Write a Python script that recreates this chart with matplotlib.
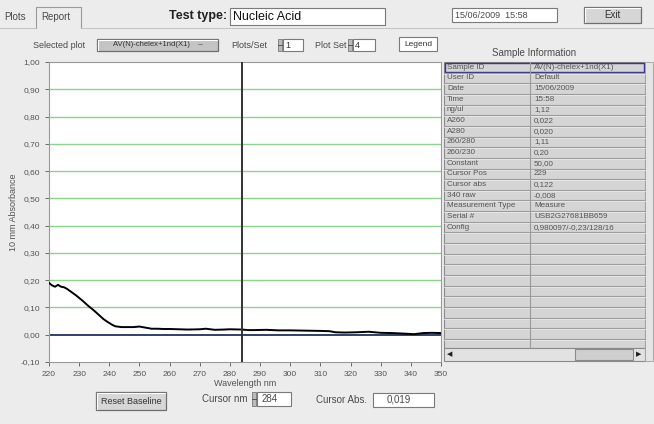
import numpy as np
import matplotlib.pyplot as plt
from matplotlib.patches import Rectangle

# absorbance spectrum
wavelength = [220, 221, 222, 223, 224, 225, 226, 227, 228, 229, 230, 231, 232, 233, 234,
              235, 236, 237, 238, 239, 240, 241, 242, 244, 246, 248, 250, 252, 254, 256,
              258, 260, 263, 266, 270, 272, 275, 278, 280, 284, 286, 288, 292, 296, 300,
              305, 310, 313, 315, 318, 322, 326, 330, 334, 338, 341, 344, 347, 350]
absorbance = [0.190, 0.181, 0.176, 0.183, 0.176, 0.174, 0.168, 0.160, 0.152, 0.144, 0.135,
              0.126, 0.116, 0.106, 0.097, 0.088, 0.078, 0.068, 0.058, 0.050, 0.043, 0.036,
              0.031, 0.028, 0.028, 0.028, 0.030, 0.026, 0.022, 0.022, 0.021, 0.021, 0.020,
              0.019, 0.020, 0.022, 0.018, 0.019, 0.020, 0.019, 0.017, 0.017, 0.018, 0.016,
              0.016, 0.015, 0.014, 0.013, 0.009, 0.008, 0.009, 0.011, 0.007, 0.006, 0.004,
              0.002, 0.006, 0.007, 0.006]
cursor_nm = 284
cursor_abs = "0,019"

x_ticks = np.arange(220, 351, 10)
y_ticks = np.round(np.arange(-0.1, 1.001, 0.1), 2)

info_labels = ["Sample ID", "User ID", "Date", "Time", "ng/ul", "A260", "A280", "260/280",
               "260/230", "Constant", "Cursor Pos", "Cursor abs", "340 raw",
               "Measurement Type", "Serial #", "Config"]
info_values = ["AV(N)-chelex+1nd(X1)", "Default", "15/06/2009", "15:58", "1,12", "0,022",
               "0,020", "1,11", "0,20", "50,00", "229", "0,122", "-0,008", "Measure",
               "USB2G27681BB659", "0,980097/-0,23/128/16"]

W, H = 654, 424
fig = plt.figure(figsize=(6.54, 4.24), dpi=100)
fig.patch.set_facecolor('#ececec')
plt.rcParams['font.family'] = ['Liberation Sans', 'DejaVu Sans']

def box(x, y, w, h):
    return [x / W, 1 - (y + h) / H, w / W, h / H]

ui = fig.add_axes([0, 0, 1, 1])
ui.set_xlim(0, W)
ui.set_ylim(H, 0)
ui.axis('off')

txt = '#4a4a4a'

def field(x, y, w, h, s, size=6.5, color='#333333', pad=3, ha='left'):
    ui.add_patch(Rectangle((x, y), w, h, fc='white', ec='#7a7a7a', lw=0.8))
    tx = x + pad if ha == 'left' else x + w / 2
    ui.text(tx, y + h / 2, s, fontsize=size, color=color, va='center', ha=ha)

def button(x, y, w, h, s, size=6.5, fc='#d6d6d6'):
    ui.add_patch(Rectangle((x, y), w, h, fc=fc, ec='#6e6e6e', lw=0.9))
    ui.plot([x + 1, x + w - 1], [y + 1, y + 1], color='white', lw=0.8)
    ui.plot([x + 1, x + 1], [y + 1, y + h - 1], color='white', lw=0.8)
    ui.text(x + w / 2, y + h / 2, s, fontsize=size, color='#333333', va='center', ha='center')

def spinner(x, y, h):
    ui.add_patch(Rectangle((x, y), 4, h, fc='#bbbbbb', ec='#777777', lw=0.6))
    ui.plot([x, x + 4], [y + h / 2, y + h / 2], color='#444444', lw=0.6)

# tabs
ui.text(4, 17, "Plots", fontsize=7, color=txt, va='center')
ui.plot([36, 36, 81, 81], [28, 7, 7, 28], color='#9a9a9a', lw=0.8)
ui.text(41, 17, "Report", fontsize=7, color=txt, va='center')
ui.plot([0, 36], [28, 28], color='#bbbbbb', lw=0.6)
ui.plot([81, 654], [28, 28], color='#bbbbbb', lw=0.6)

# header
ui.text(227, 16, "Test type:", fontsize=9, color='#222222', va='center', ha='right',
        fontweight='bold')
field(230, 8, 155, 17, "Nucleic Acid", size=9, color='#111111')
field(452, 8, 105, 14, "15/06/2009  15:58", size=6.5, color=txt)
button(584, 7, 57, 16, "Exit", size=7)

ui.text(33, 45, "Selected plot", fontsize=6.5, color=txt, va='center')
button(97, 39, 121, 12, "AV(N)-chelex+1nd(X1)    \u2013", size=5.5, fc='#c4c4c4')
ui.text(231, 45, "Plots/Set", fontsize=6.5, color=txt, va='center')
spinner(278, 39, 12)
field(283, 39, 20, 12, "1", size=6.5, pad=2)
ui.text(315, 45, "Plot Set", fontsize=6.5, color=txt, va='center')
spinner(348, 39, 12)
field(353, 39, 22, 12, "4", size=6.5, pad=2)
field(399, 37, 38, 14, "Legend", size=6, ha='center')
ui.text(534, 53, "Sample Information", fontsize=7, color=txt, va='center', ha='center')

# sample information table
tx0, tx1, tx2, ty0, rh = 444, 530, 645, 62, 10.65
nrows = 27
ui.add_patch(Rectangle((tx0, ty0), tx2 - tx0, 286, fc='#d5d5d5', ec='#8a8a8a', lw=0.8))
for i in range(nrows):
    yy = ty0 + (i + 1) * rh
    if yy < 346:
        ui.plot([tx0, tx2], [yy, yy], color='#9c9c9c', lw=0.8)
        ui.plot([tx0, tx2], [yy + 1, yy + 1], color='#eeeeee', lw=0.5)
ui.plot([tx1, tx1], [ty0, 348], color='#9c9c9c', lw=0.8)
for i, (lab, val) in enumerate(zip(info_labels, info_values)):
    yc = ty0 + (i + 0.5) * rh
    ui.text(tx0 + 3, yc, lab, fontsize=5.8, color='#555555', va='center')
    ui.text(tx1 + 4, yc, val, fontsize=5.8, color='#555555', va='center')
ui.add_patch(Rectangle((tx0 + 1, ty0 + 0.5), tx2 - tx0 - 2, rh - 1, fc='none',
                       ec='#3a3a8a', lw=1.0))
# scrollbars
ui.add_patch(Rectangle((tx0, 348), tx2 - tx0, 13, fc='#e2e2e2', ec='#8a8a8a', lw=0.8))
ui.add_patch(Rectangle((575, 349), 58, 11, fc='#cfcfcf', ec='#8a8a8a', lw=0.8))
ui.text(447, 354.5, "\u25c0", fontsize=5, color='#222222', va='center',
        family=['DejaVu Sans'])
ui.text(636, 354.5, "\u25b6", fontsize=5, color='#222222', va='center',
        family=['DejaVu Sans'])
ui.add_patch(Rectangle((tx2, ty0), 8, 299, fc='#e4e4e4', ec='#a0a0a0', lw=0.6))

# bottom controls
button(96, 392, 70, 18, "Reset Baseline", size=6.5)
ui.text(202, 399, "Cursor nm", fontsize=7, color=txt, va='center')
spinner(252, 392, 14)
field(257, 392, 34, 14, str(cursor_nm), size=7, color=txt, pad=5)
ui.text(316, 400, "Cursor Abs.", fontsize=7, color=txt, va='center')
field(373, 393, 61, 14, cursor_abs, size=7, color=txt, pad=14)

# spectrum plot
ax = fig.add_axes(box(49, 62, 392, 300))
ax.set_facecolor('white')
for v in y_ticks:
    if 0.05 < v < 0.95:
        ax.axhline(v, color='#8fd18f', lw=1.0, zorder=1)
ax.axhline(0, color='#22305e', lw=1.3, zorder=2)
ax.plot(wavelength, absorbance, color='black', lw=1.4, zorder=3)
ax.axvline(cursor_nm, color='#333333', lw=1.4, zorder=4)
ax.set_xlim(220, 350)
ax.set_ylim(-0.1, 1.0)
ax.set_xticks(x_ticks)
ax.set_xticklabels([str(v) for v in x_ticks])
ax.set_yticks(y_ticks)
ax.set_yticklabels([f"{v:.2f}".replace('.', ',') for v in y_ticks])
ax.tick_params(labelsize=6, colors='#555555', length=3, width=0.6)
for s in ax.spines.values():
    s.set_color('#9a9a9a')
    s.set_linewidth(0.8)
ax.set_xlabel("Wavelength nm", fontsize=6.5, color='#555555', labelpad=1)
ax.set_ylabel("10 mm Absorbance", fontsize=6.5, color='#555555', labelpad=2)

fig.savefig('out.png', dpi=100, facecolor=fig.get_facecolor())
